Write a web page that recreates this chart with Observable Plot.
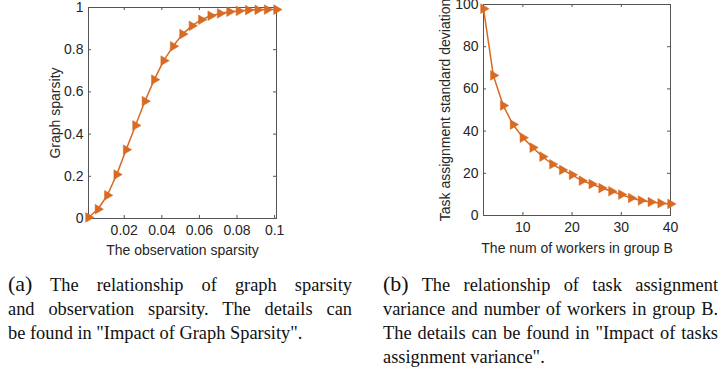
<!DOCTYPE html>
<html><head><meta charset="utf-8">
<script src="https://cdn.jsdelivr.net/npm/d3@7"></script>
<script src="https://cdn.jsdelivr.net/npm/@observablehq/plot@0.6"></script>
<style>
html,body{margin:0;padding:0;background:#fff;}
#root{position:relative;width:721px;height:376px;overflow:hidden;background:#fff;}
.chart{position:absolute;top:0;}
.cap{position:absolute;font-family:"Liberation Serif","Times New Roman",serif;font-size:18.4px;line-height:24px;color:#111;}
.cap .ln{text-align:justify;text-align-last:justify;white-space:nowrap;}
.cap .ln.last{text-align:left;text-align-last:left;}
.cap .lab{font-size:22px;line-height:24px;}
</style></head><body>
<div id="root">
  <div id="a" class="chart" style="left:0px"></div>
  <div id="b" class="chart" style="left:400px"></div>
  <div class="cap" style="left:8px;top:272px;width:344px">
    <div class="ln" style="white-space:normal"><span class="lab">(a)</span> The relationship of graph sparsity</div>
    <div class="ln" style="white-space:normal">and observation sparsity. The details can</div>
    <div class="ln last">be found in "Impact of Graph Sparsity".</div>
  </div>
  <div class="cap" style="left:383px;top:272px;width:335px">
    <div class="ln" style="white-space:normal"><span class="lab">(b)</span> The relationship of task assignment</div>
    <div class="ln" style="white-space:normal">variance and number of workers in group B.</div>
    <div class="ln" style="white-space:normal">The details can be found in "Impact of tasks</div>
    <div class="ln last">assignment variance".</div>
  </div>
</div>
<script>
// ---- data: chart (a) ----
const obsSparsity = [0.001,0.006,0.011,0.016,0.021,0.026,0.031,0.036,0.041,0.046,0.051,0.056,0.061,0.066,0.071,0.076,0.081,0.086,0.091,0.096,0.101];
const graphSparsity = [0.005,0.044,0.110,0.208,0.326,0.441,0.556,0.658,0.748,0.816,0.874,0.913,0.942,0.961,0.972,0.980,0.984,0.988,0.989,0.990,0.990];
const aXTicks = [0.02,0.04,0.06,0.08,0.1];
const aYTicks = [0,0.2,0.4,0.6,0.8,1];
const aXLabel = "The observation sparsity";
const aYLabel = "Graph sparsity";

// ---- data: chart (b) ----
const workersB = [2,4,6,8,10,12,14,16,18,20,22,24,26,28,30,32,34,36,38,40];
const taskStd = [98,66.4,52.1,43.1,36.9,32.2,27.9,24.3,21.6,19.3,16.5,14.9,13.0,11.5,9.9,8.3,7.1,6.4,5.8,5.5];
const bXTicks = [10,20,30,40];
const bYTicks = [0,20,40,60,80,100];
const bXLabel = "The num of workers in group B";
const bYLabel = "Task assignment standard deviation";

const ORANGE = "#D86A24";

function chart(o) {
  const data = o.xs.map((x, i) => ({x, y: o.ys[i]}));
  const ph = o.height - o.mT - o.mB, pw = o.width - o.mL - o.mR;
  const tk = 3;
  const fmt = d => String(d);
  return Plot.plot({
    width: o.width, height: o.height,
    marginLeft: o.mL, marginRight: o.mR, marginTop: o.mT, marginBottom: o.mB,
    style: {fontFamily: "'Liberation Sans', Arial, sans-serif", fontSize: "14px", color: "#262626", background: "transparent", overflow: "visible"},
    x: {domain: o.xDomain},
    y: {domain: o.yDomain},
    marks: [
      Plot.frame({stroke: "#555", strokeWidth: 1}),
      Plot.tickX(o.xTicks, {x: d => d, insetTop: ph - tk, stroke: "#555"}),
      Plot.tickX(o.xTicks, {x: d => d, insetBottom: ph - tk, stroke: "#555"}),
      Plot.tickY(o.yTicks, {y: d => d, insetRight: pw - tk, stroke: "#555"}),
      Plot.tickY(o.yTicks, {y: d => d, insetLeft: pw - tk, stroke: "#555"}),
      Plot.axisX({ticks: o.xTicks, tickFormat: fmt, tickSize: 0, tickPadding: 7, label: null}),
      Plot.axisY({ticks: o.yTicks, tickFormat: fmt, tickSize: 0, tickPadding: 5, label: null}),
      Plot.text([o.xLabel], {frameAnchor: "bottom", textAnchor: "middle", lineAnchor: "middle", dy: o.xLabelDy, fill: "#262626"}),
      Plot.text([o.yLabel], {frameAnchor: "left", textAnchor: "middle", lineAnchor: "middle", rotate: -90, dx: o.yLabelDx, fill: "#262626"}),
      Plot.line(data, {x: "x", y: "y", stroke: ORANGE, strokeWidth: 1.5}),
      Plot.dot(data, {x: "x", y: "y", symbol: "triangle", rotate: 90, r: 3.6, fill: ORANGE, stroke: ORANGE, strokeWidth: 0.5})
    ]
  });
}

document.getElementById("a").appendChild(chart({
  xs: obsSparsity, ys: graphSparsity, xDomain: [0.001, 0.101], yDomain: [0, 1],
  xTicks: aXTicks, yTicks: aYTicks, xLabel: aXLabel, yLabel: aYLabel,
  width: 300, height: 260, mL: 88, mR: 24, mT: 7, mB: 42, xLabelDy: 32, yLabelDx: -33
}));
document.getElementById("b").appendChild(chart({
  xs: workersB, ys: taskStd, xDomain: [2, 40], yDomain: [0, 100],
  xTicks: bXTicks, yTicks: bYTicks, xLabel: bXLabel, yLabel: bYLabel,
  width: 300, height: 260, mL: 83, mR: 30, mT: 4, mB: 45, xLabelDy: 33, yLabelDx: -38
}));
</script>
</body></html>
